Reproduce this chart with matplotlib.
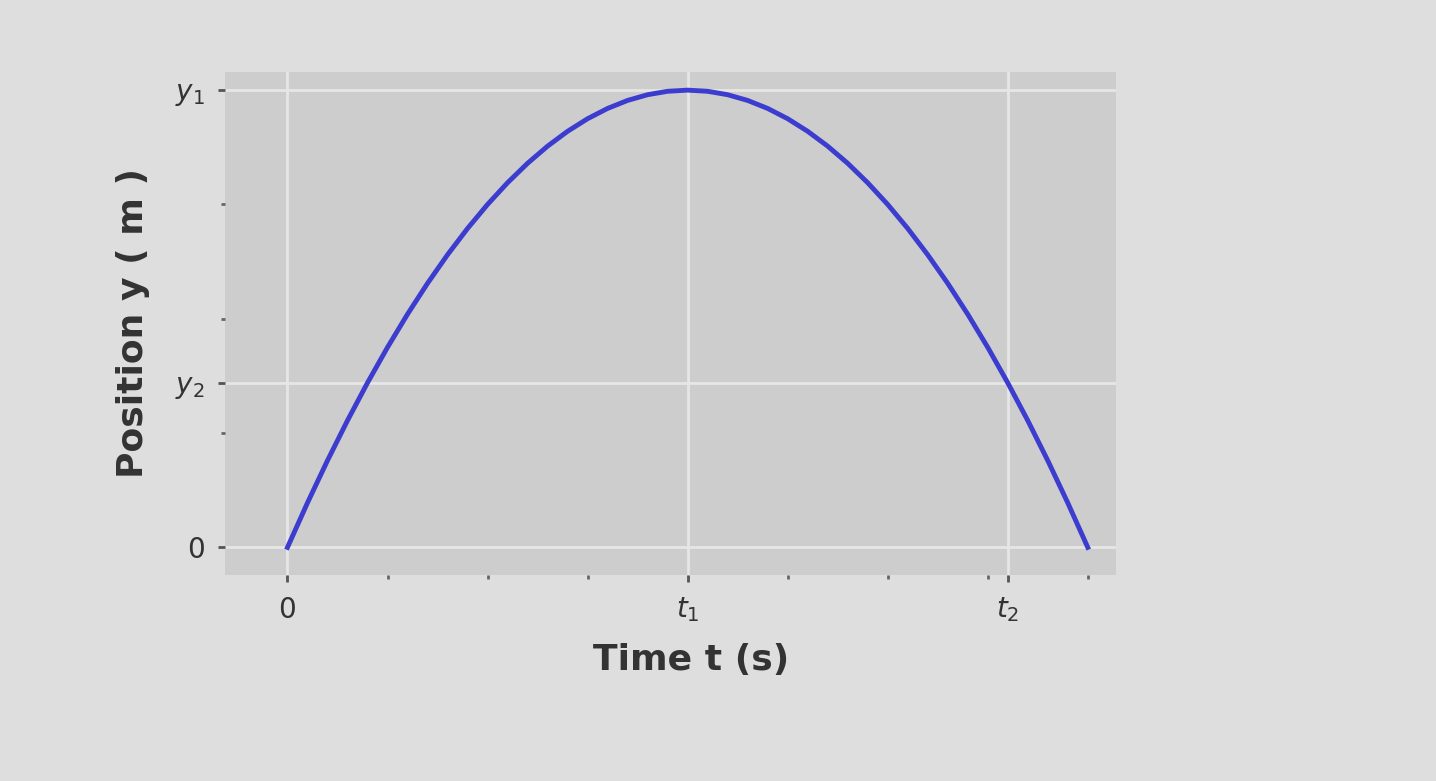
import matplotlib.pyplot as plt
from matplotlib.ticker import MultipleLocator

# position of a thrown object (t1 = 1 unit, y1 = 1 unit)
time_t = [0.0, 0.05, 0.1, 0.15, 0.2, 0.25, 0.3, 0.35, 0.4, 0.45, 0.5,
          0.55, 0.6, 0.65, 0.7, 0.75, 0.8, 0.85, 0.9, 0.95, 1.0,
          1.05, 1.1, 1.15, 1.2, 1.25, 1.3, 1.35, 1.4, 1.45, 1.5,
          1.55, 1.6, 1.65, 1.7, 1.75, 1.8, 1.85, 1.9, 1.95, 2.0]
pos_y = [0.0, 0.0975, 0.19, 0.2775, 0.36, 0.4375, 0.51, 0.5775, 0.64, 0.6975, 0.75,
         0.7975, 0.84, 0.8775, 0.91, 0.9375, 0.96, 0.9775, 0.99, 0.9975, 1.0,
         0.9975, 0.99, 0.9775, 0.96, 0.9375, 0.91, 0.8775, 0.84, 0.7975, 0.75,
         0.6975, 0.64, 0.5775, 0.51, 0.4375, 0.36, 0.2775, 0.19, 0.0975, 0.0]

x_ticks = [0, 1.0, 1.8]
x_labels = ['0', '$t_1$', '$t_2$']
y_ticks = [0, 0.36, 1.0]
y_labels = ['0', '$y_2$', '$y_1$']

fig = plt.figure(figsize=(14.36, 7.81), dpi=100)
fig.patch.set_facecolor('#dedede')
ax = fig.add_axes([0.157, 0.264, 0.62, 0.644])
ax.set_facecolor('#cdcdcd')

ax.plot(time_t, pos_y, color='#3c3ccf', linewidth=3.5, solid_joinstyle='round')

ax.set_xlim(-0.155, 2.07)
ax.set_ylim(-0.06, 1.04)
ax.set_xticks(x_ticks)
ax.set_xticklabels(x_labels)
ax.set_yticks(y_ticks)
ax.set_yticklabels(y_labels)
ax.xaxis.set_minor_locator(MultipleLocator(0.25))
ax.yaxis.set_minor_locator(MultipleLocator(0.25))
ax.tick_params(which='major', length=5, width=2, color='#555555',
               labelsize=20, labelcolor='#333333', pad=10)
ax.tick_params(which='minor', length=3, width=2, color='#666666')
ax.grid(True, which='major', color='#e6e6e6', linewidth=2)
ax.set_axisbelow(True)
for s in ax.spines.values():
    s.set_visible(False)

ax.set_xlabel('Time t (s)', fontsize=26, fontweight='bold', color='#333333')
ax.xaxis.set_label_coords(0.523, -0.135)
ax.set_ylabel('Position y ( m )', fontsize=26, fontweight='bold', color='#333333', labelpad=18)

fig.savefig('out.png', dpi=100, facecolor=fig.get_facecolor())
